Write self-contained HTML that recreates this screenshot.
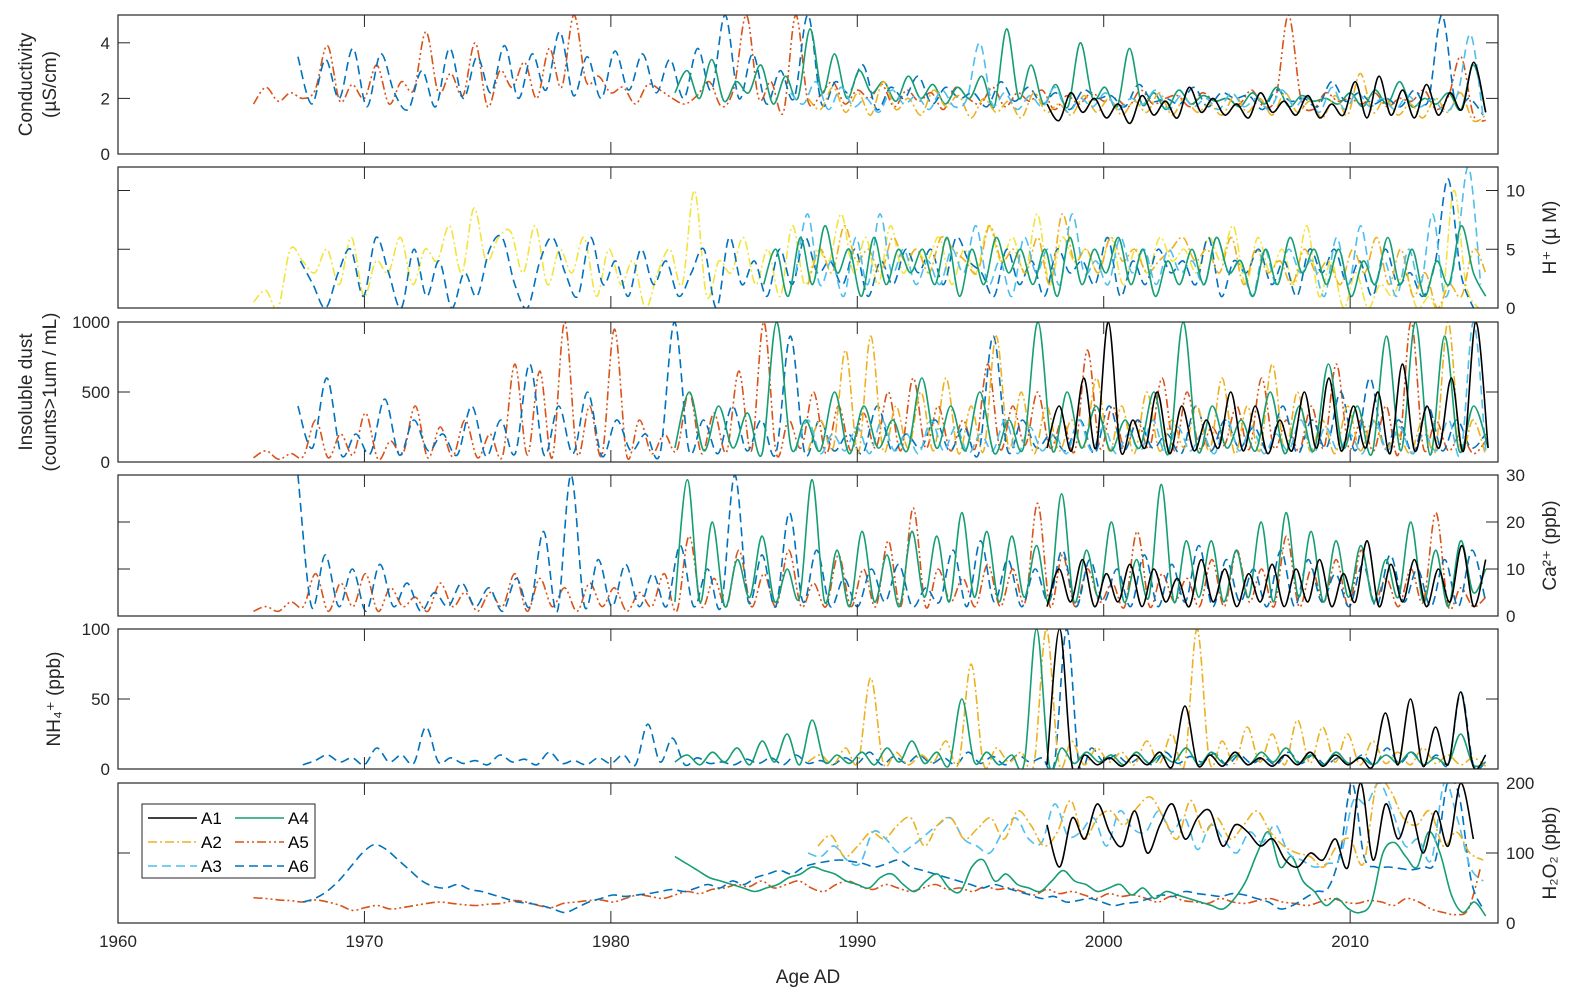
<!DOCTYPE html>
<html><head><meta charset="utf-8">
<style>
html,body{margin:0;padding:0;background:#fff;}
svg{display:block;font-family:"Liberation Sans",Arial,sans-serif;}
</style></head>
<body>
<svg id="chart" width="1592" height="1001" viewBox="0 0 1592 1001">
<g id="panels"></g>
<text x="808" y="983" font-size="19" text-anchor="middle" fill="#262626">Age AD</text>
<g id="legend">
 <rect x="142" y="804" width="173" height="74" fill="#fff" stroke="#262626" stroke-width="1"/>
</g>
</svg>
<script>
// ---- data ----
const xTickYears = [1960,1970,1980,1990,2000,2010];
const seriesNames = ["A1","A2","A3","A4","A5","A6"];

const cond_A5 = [1.8,2.4,1.9,2.2,2.0,2.3,3.9,1.9,2.5,2.0,3.2,1.8,2.6,2.3,4.4,2.2,2.9,2.1,4.0,1.7,3.0,2.4,3.3,2.0,3.8,2.4,5,2.6,2.8,2.2,2.4,1.8,2.5,2.3,2.0,1.8,2.1,2.6,1.7,2.4,5,2.0,2.6,1.5,5,1.9,2.1,2.6,1.8,2.3,2.0,2.5,1.7,2.3,1.9,2.2,1.6,2.4,2.0,1.8,2.4,1.7,2.2,1.9,2.3,1.6,2.1,1.8,2.2,1.9,2.0,1.7,2.3,1.8,2.0,2.1,1.7,2.2,1.9,2.0,1.8,2.3,1.7,2.1,5,2.0,1.6,2.2,1.9,2.0,1.8,2.2,1.7,2.0,1.9,2.3,1.6,2.1,3.5,1.4,1.2];
const cond_A6 = [3.5,1.8,3.4,2.0,3.8,1.7,3.6,2.2,1.6,3.0,1.7,3.8,2.0,3.5,2.2,3.9,2.0,3.6,2.3,4.4,2.1,3.5,2.0,3.7,2.3,3.6,2.2,3.4,2.0,3.8,2.3,5,2.0,3.6,1.8,3.0,2.0,5,1.8,2.6,2.2,3.2,1.6,2.4,2.0,2.8,1.8,2.4,2.0,2.2,1.7,2.6,1.9,2.4,1.8,2.2,1.6,2.3,2.0,2.1,1.7,2.5,1.9,2.0,1.8,2.4,1.7,2.2,2.0,2.1,1.6,2.3,1.9,2.0,1.7,2.6,1.9,2.2,1.8,2.0,1.7,2.3,1.9,5,1.8,2.0,1.4];
const cond_A4 = [2.2,3.0,2.0,3.4,1.9,2.6,2.2,3.2,1.8,2.8,2.0,4.5,2.2,3.6,2.0,3.0,2.2,2.6,1.9,2.8,2.0,2.5,1.8,2.4,2.0,2.8,1.7,4.5,2.0,3.2,1.8,2.5,1.7,4.0,2.0,2.4,1.7,3.8,1.8,2.2,1.6,2.3,1.8,2.1,1.9,2.0,1.7,2.2,1.8,2.4,1.7,2.1,1.9,2.0,1.8,2.2,1.7,2.3,1.8,2.6,1.7,2.0,1.8,2.2,1.6,3.2,1.5];
const cond_A2 = [2.0,1.6,2.4,1.5,2.2,1.4,2.6,1.6,2.0,1.4,2.3,1.7,2.1,1.3,2.0,1.5,1.9,1.3,2.2,1.5,1.8,1.4,2.1,1.5,2.0,1.4,1.9,1.5,2.2,1.4,2.0,1.5,1.8,1.4,2.1,1.5,2.0,1.4,2.2,1.5,1.9,1.3,2.1,1.4,2.9,1.5,2.0,1.4,1.8,1.3,2.0,1.5,2.2,1.2,1.4];
const cond_A3 = [2.2,1.8,2.6,1.6,2.4,1.7,2.0,1.5,2.3,1.8,2.1,1.6,2.3,1.7,2.0,4.0,1.8,2.2,1.6,2.1,1.7,2.4,1.5,2.0,1.7,2.2,1.6,2.0,1.8,2.3,1.6,2.1,1.7,2.0,1.6,2.2,1.7,2.0,1.6,2.3,1.7,2.1,1.5,2.4,1.6,2.2,1.7,2.0,1.6,2.1,1.7,2.0,1.5,2.2,4.3,1.3];
const cond_A1 = [1.8,1.2,2.2,1.5,2.0,1.3,1.8,1.1,2.1,1.4,1.9,1.3,2.4,1.5,2.0,1.4,1.8,1.3,2.2,1.5,1.9,1.4,2.1,1.3,1.8,1.4,2.6,1.3,2.8,1.4,2.3,1.3,2.5,1.4,2.2,1.6,3.3,1.5];

const hp_Y  = [0.5,1.5,0,5,4,3,5,2,6,1,4,3,6,2,5,4,7,3,8.5,4,6,6.5,3,7,2,5,3,6,1,5,2,4,0,3,5,2,10,1,4,3,6,2,5,1,7,2,5,4,8,3,6,2,7,3,5,4,6,2,5,3,7,4,6,3,8,2,6,4,5,3,6,2,5,3,6,4,5,3,6,4,7,2,6,3,5,2,7,1,4,0,3,0,2,1,3,0,1,0,10,2,0];
const hp_A6 = [4,2,0,3,5,1,6,3,0,5,1,4,0,3,1,5,6,2,0,4,6,3,1,6,2,4,1,5,2,4,1,3,5,0,6,2,4,1,5,2,6,3,4,2,5,1,4,2,5,3,5,2,6,4,3,1,5,2,4,1,5,3,4,2,6,1,4,2,5,3,4,2,6,1,4,3,5,2,4,1,5,3,5,2,4,1,5,2,3,1,4,11,3,0];
const hp_A4 = [2,5,1,6,2,7,3,5,1,6,2,5,3,5,2,6,1,5,2,6,3,5,2,5,1,6,2,5,3,6,2,5,1,4,2,5,2,6,3,4,1,5,2,6,3,5,2,5,1,4,2,6,2,5,1,4,2,7,3,1];
const hp_A3 = [3,8,2,4,1,6,2,8,3,5,2,4,2,5,3,7,2,4,1,6,3,5,2,8,3,4,2,6,3,5,2,5,3,4,2,6,3,4,1,5,2,5,3,4,1,6,2,7,2,4,1,5,2,8,1,5,12,2];
const hp_A2 = [2,5,3,7,4,5,3,6,4,5,3,6,5,4,3,7,4,5,3,6,2,8,4,5,3,6,4,5,3,4,5,6,4,5,3,6,2,5,3,4,2,5,3,4,2,5,3,6,2,5,1,3,0,2,1,5,3];

const dust_A5 = [30,80,20,60,40,300,30,200,50,350,20,150,60,400,30,250,40,300,30,200,40,700,50,650,30,1000,60,400,50,950,40,300,60,200,80,500,60,350,70,650,80,1000,60,300,100,500,60,400,80,350,100,500,80,600,100,400,80,300,100,700,90,400,120,500,100,300,80,800,100,400,90,300,100,600,80,500,100,250,120,400,90,600,100,300,80,400,100,700,100,300,80,400,60,1000,100,300,80,200,60,150];
const dust_A6 = [400,100,600,50,200,60,450,50,300,80,200,50,400,40,300,60,700,50,400,60,500,40,300,80,200,60,1000,80,300,60,400,80,300,60,900,60,300,80,200,60,400,80,200,100,300,80,250,60,900,80,300,100,200,80,300,60,400,80,300,100,200,60,400,80,300,100,250,80,400,60,300,100,500,80,600,100,300,60,400,80,300,100,200];
const dust_A4 = [100,500,80,400,100,350,60,1000,100,300,80,500,60,400,100,300,80,600,100,400,80,500,60,300,100,1000,80,500,100,400,80,300,100,500,60,1000,80,400,100,300,80,500,60,400,80,700,100,400,60,900,80,1000,50,900,80,400,100];
const dust_A1 = [100,400,80,600,100,1000,80,300,100,500,60,400,80,300,100,500,80,400,60,300,80,500,100,600,80,400,100,500,60,700,80,400,100,600,80,1000,100];
const dust_A2 = [80,300,100,800,60,900,80,400,100,500,80,600,60,400,80,900,100,500,60,400,80,300,100,600,80,400,60,500,80,300,100,400,80,600,60,400,80,700,60,500,80,300,60,400,80,300,100,200,60,300,80,1000,100,300,50];
const dust_A3 = [80,300,60,200,80,250,60,300,80,200,60,300,80,250,60,200,80,300,60,250,80,200,60,300,80,250,60,200,80,300,60,250,80,200,60,300,80,250,60,200,80,300,60,250,80,200,60,300,80,250,60,200,80,300,60,1000,80];

const ca_A5 = [1,2,1,3,2,9,1,7,2,9,1,6,2,4,1,7,2,5,1,5,2,9,1,8,2,6,1,7,2,6,1,5,2,9,1,17,2,8,2,14,2,9,2,14,2,7,2,13,2,10,2,16,2,23,2,10,3,8,2,11,2,10,3,24,2,13,2,10,3,7,2,18,2,9,3,8,2,12,2,14,3,10,2,17,2,10,3,12,2,14,3,8,2,10,3,22,2,6,2,4];
const ca_A6 = [30,2,13,2,10,1,11,2,7,1,5,2,7,2,6,1,8,2,18,1,30,2,12,2,11,2,9,2,15,2,10,2,30,3,13,2,22,3,14,2,8,2,10,3,11,2,6,3,14,2,16,3,12,2,10,3,14,2,12,3,10,2,13,2,11,3,15,2,12,3,10,2,14,2,12,3,9,2,11,2,13,3,10,2,12,2,14,3];
const ca_A4 = [3,29,3,20,2,12,4,17,3,10,4,29,3,14,2,18,3,13,2,18,4,17,3,22,4,18,3,17,4,15,3,26,3,14,4,20,3,12,4,28,3,16,4,16,3,14,4,20,3,22,4,18,3,16,4,15,3,12,4,20,3,14,2,16,5,10];
const ca_A1 = [2,10,3,12,2,9,3,11,2,10,3,8,2,12,3,10,2,9,3,11,2,10,3,12,2,9,3,16,2,11,3,12,2,10,3,15,2,12];

const nh_A6 = [3,6,10,5,8,3,15,5,10,4,30,5,8,4,6,3,10,5,7,3,12,4,6,3,8,4,10,3,32,5,22,3,8,4,5,3,7,4,8,3,10,4,6,3,8,4,12,3,9,4,10,4,8,3,12,4,9,3,10,5,8,4,100,3,15,5,10,4,8,3,12,4,9,5,11,3,10,4,8,3,12,4,10,3,8,4,10,3,15,4,12,3,10,4,55,3,5];
const nh_A4 = [5,10,3,12,5,15,3,20,5,25,3,35,5,10,4,12,3,15,5,20,4,12,3,50,5,12,3,10,4,100,3,15,4,12,5,10,3,12,4,10,5,15,3,12,4,10,3,12,5,15,4,10,3,12,4,8,3,10,4,12,3,8,4,25,3,5];
const nh_A2 = [5,10,3,15,5,65,4,12,3,10,5,20,4,75,3,15,5,12,3,100,4,20,3,15,5,12,3,20,4,25,3,100,5,20,4,30,5,25,3,35,4,30,5,25,3,20,4,12,3,15,4,10,3,8,2];
const nh_A1 = [3,100,2,10,3,8,2,10,3,12,2,45,3,10,2,12,3,8,2,10,3,12,2,10,3,8,2,40,3,50,2,30,3,55,2,10];

const h2_A5 = [36,35,33,32,30,33,30,25,18,22,25,20,22,25,28,30,28,26,25,27,28,32,30,25,22,28,30,32,33,30,35,40,38,35,40,45,42,48,50,55,52,60,50,55,60,50,45,55,60,52,48,55,50,45,50,55,48,50,45,52,48,50,45,40,48,42,45,40,35,42,38,40,35,30,38,32,30,28,35,30,28,32,35,30,28,25,30,35,30,28,32,30,25,35,30,20,15,12,20,80];
const h2_A6 = [30,35,45,60,80,100,112,105,90,75,60,52,50,55,48,45,40,35,30,28,25,20,15,22,30,35,40,38,40,42,45,48,45,50,55,50,60,55,65,70,75,70,80,85,88,90,88,85,80,85,90,80,75,70,65,60,55,50,55,50,45,40,35,38,30,32,35,30,25,28,30,35,40,38,45,42,40,38,42,40,35,30,20,25,35,45,50,100,200,95,80,80,78,76,80,90,200,180,60,20];
const h2_A4 = [95,85,75,65,60,55,50,45,50,55,65,70,80,75,70,60,55,50,65,70,55,45,60,70,50,45,80,90,60,70,55,50,45,60,75,60,55,45,50,55,40,50,35,45,40,35,30,25,20,35,60,100,130,80,95,60,45,25,35,20,15,30,100,115,95,80,130,100,40,15,30,10];
const h2_A3 = [100,95,110,90,85,130,120,100,110,125,140,150,120,110,100,130,150,120,115,170,125,130,150,110,160,135,130,160,130,150,105,140,120,100,130,115,140,100,90,80,85,95,175,170,200,160,110,120,90,200,150,80,60];
const h2_A2 = [110,125,95,110,130,120,140,150,110,140,150,120,135,150,120,160,140,110,130,175,120,150,160,140,165,180,150,120,175,130,150,120,140,160,130,110,100,95,80,110,120,85,200,190,150,140,160,110,130,100,90];
const h2_A1 = [140,80,150,120,170,130,110,160,100,140,170,120,150,160,110,140,130,110,120,90,80,100,90,120,80,200,90,170,120,160,100,160,110,200,120];

// ---- styles ----
const C = {A1:"#000000",A2:"#EDB120",A3:"#4DBEEE",A4:"#159E74",A5:"#D95319",A6:"#0072BD",Y:"#F2E43C"};
const D = {A1:"",A2:"9,3,2,3",A3:"9,5",A4:"",A5:"9,3,2,3,2,3",A6:"9,5",Y:"9,3,2,3"};

const X0=118, X1=1498, Y0=1960, Y1=2016;
function xs(yr){ return X0 + (yr-Y0)/(Y1-Y0)*(X1-X0); }

// series: [key, startYear, endYear, values]
const panels = [
 {name:"conductivity",top:15,bot:154,max:5,ticks:[0,2,4],side:"left",label:["Conductivity","(\u00b5S/cm)"],
  series:[["A5",1965.5,2015.5,cond_A5],["A6",1967.3,2015.4,cond_A6],["A4",1982.6,2015.5,cond_A4],["A2",1988,2015.5,cond_A2],["A3",1987.3,2015.4,cond_A3],["A1",1997.7,2015.5,cond_A1]]},
 {name:"hydrogen-ion",top:167,bot:308,max:12,ticks:[0,5,10],side:"right",label:["H\u207a (\u00b5 M)"],
  series:[["Y",1965.5,2015.2,hp_Y],["A6",1967.4,2015.0,hp_A6],["A2",1988,2015.5,hp_A2],["A3",1987.5,2015.3,hp_A3],["A4",1986.2,2015.5,hp_A4]]},
 {name:"insoluble-dust",top:322,bot:462,max:1000,ticks:[0,500,1000],side:"left",label:["Insoluble dust","(counts>1um / mL)"],
  series:[["A5",1965.5,2015.5,dust_A5],["A6",1967.3,2015.5,dust_A6],["A2",1988,2015.5,dust_A2],["A3",1987.5,2015.5,dust_A3],["A4",1982.6,2015.6,dust_A4],["A1",1997.7,2015.6,dust_A1]]},
 {name:"calcium",top:475,bot:616,max:30,ticks:[0,10,20,30],side:"right",label:["Ca\u00b2\u207a (ppb)"],
  series:[["A5",1965.5,2015.5,ca_A5],["A6",1967.3,2015.5,ca_A6],["A4",1982.6,2015.5,ca_A4],["A1",1997.7,2015.5,ca_A1]]},
 {name:"ammonium",top:629,bot:769,max:100,ticks:[0,50,100],side:"left",label:["NH\u2084\u207a (ppb)"],
  series:[["A6",1967.5,2015.5,nh_A6],["A2",1988,2015.5,nh_A2],["A4",1982.6,2015.5,nh_A4],["A1",1997.7,2015.5,nh_A1]]},
 {name:"hydrogen-peroxide",top:783,bot:923,max:200,ticks:[0,100,200],side:"right",label:["H\u2082O\u2082 (ppb)"],
  series:[["A5",1965.5,2015.3,h2_A5],["A6",1967.5,2015.4,h2_A6],["A4",1982.6,2015.5,h2_A4],["A3",1988,2015.4,h2_A3],["A2",1988.4,2015.4,h2_A2],["A1",1997.7,2015.0,h2_A1]]}
];

const NS="http://www.w3.org/2000/svg";
function mk(tag,attrs,parent){const e=document.createElementNS(NS,tag);for(const k in attrs)e.setAttribute(k,attrs[k]);parent.appendChild(e);return e;}
const root=document.getElementById("panels");
const defs=mk("defs",{},root);

function smoothPath(pts){
  let d="M"+pts[0][0].toFixed(1)+","+pts[0][1].toFixed(1);
  for(let i=0;i<pts.length-1;i++){
    const p0=pts[i-1]||pts[i], p1=pts[i], p2=pts[i+1], p3=pts[i+2]||p2;
    const c1x=p1[0]+(p2[0]-p0[0])/6, c1y=p1[1]+(p2[1]-p0[1])/6;
    const c2x=p2[0]-(p3[0]-p1[0])/6, c2y=p2[1]-(p3[1]-p1[1])/6;
    d+="C"+c1x.toFixed(1)+","+c1y.toFixed(1)+" "+c2x.toFixed(1)+","+c2y.toFixed(1)+" "+p2[0].toFixed(1)+","+p2[1].toFixed(1);
  }
  return d;
}

panels.forEach((p,pi)=>{
  const g=mk("g",{},root);
  
  
  const ys=v=>p.bot-(v/p.max)*(p.bot-p.top);
  const cp=mk("clipPath",{id:"cp"+pi},defs);
  mk("rect",{x:X0,y:p.top,width:X1-X0,height:p.bot-p.top},cp);
  const sg=mk("g",{"clip-path":"url(#cp"+pi+")"},g);
  p.series.forEach(s=>{
    const [key,start,end,vals]=s;
    const step=(end-start)/(vals.length-1);
    const pts=vals.map((v,i)=>[xs(start+i*step),ys(v)]);
    const path=mk("path",{d:smoothPath(pts),fill:"none",stroke:C[key],"stroke-width":"1.6","stroke-linejoin":"round"},sg);
    if(D[key]) path.setAttribute("stroke-dasharray",D[key]);
    
    
  });
  const frame=mk("rect",{x:X0,y:p.top,width:X1-X0,height:p.bot-p.top,fill:"none",stroke:"#262626","stroke-width":"1.2"},g);
  
  
  xTickYears.forEach(yr=>{
    const x=xs(yr);
    mk("line",{x1:x,x2:x,y1:p.bot,y2:p.bot-12,stroke:"#262626","stroke-width":"1"},g);
    mk("line",{x1:x,x2:x,y1:p.top,y2:p.top+12,stroke:"#262626","stroke-width":"1"},g);
  });
  p.ticks.forEach(t=>{
    const y=ys(t);
    mk("line",{x1:X0,x2:X0+12,y1:y,y2:y,stroke:"#262626","stroke-width":"1"},g);
    mk("line",{x1:X1,x2:X1-12,y1:y,y2:y,stroke:"#262626","stroke-width":"1"},g);
    const tx = p.side==="left" ? mk("text",{x:X0-8,y:y+6,"font-size":"17","text-anchor":"end",fill:"#262626"},g)
                               : mk("text",{x:X1+8,y:y+6,"font-size":"17","text-anchor":"start",fill:"#262626"},g);
    tx.textContent=t;
    
    
  });
  const cy=(p.top+p.bot)/2;
  const lx = p.side==="left" ? (p.label.length>1?32:60) : 1556;
  p.label.forEach((ln,li)=>{
    const x = lx + li*24;
    const t=mk("text",{x:x,y:cy,"font-size":"19","text-anchor":"middle",fill:"#262626",transform:"rotate(-90 "+x+" "+cy+")"},g);
    t.textContent=ln;
    
    
  });
  if(pi===panels.length-1){
    xTickYears.forEach(yr=>{
      const t=mk("text",{x:xs(yr),y:p.bot+24,"font-size":"17","text-anchor":"middle",fill:"#262626"},g);
      t.textContent=yr;
      
      
    });
  }
});

const lg=document.getElementById("legend");
const legendOrder=[["A1",0,0],["A2",0,1],["A3",0,2],["A4",1,0],["A5",1,1],["A6",1,2]];
legendOrder.forEach(([k,c,r])=>{
  const x=148+c*87, y=818+r*24;
  const g=mk("g",{},lg);
  
  
  const l=mk("line",{x1:x,x2:x+49,y1:y,y2:y,stroke:C[k],"stroke-width":"1.6"},g);
  if(D[k]) l.setAttribute("stroke-dasharray",D[k]);
  const t=mk("text",{x:x+53,y:y+6,"font-size":"17",fill:"#000"},g);
  t.textContent=k;
});
</script>
</body></html>
